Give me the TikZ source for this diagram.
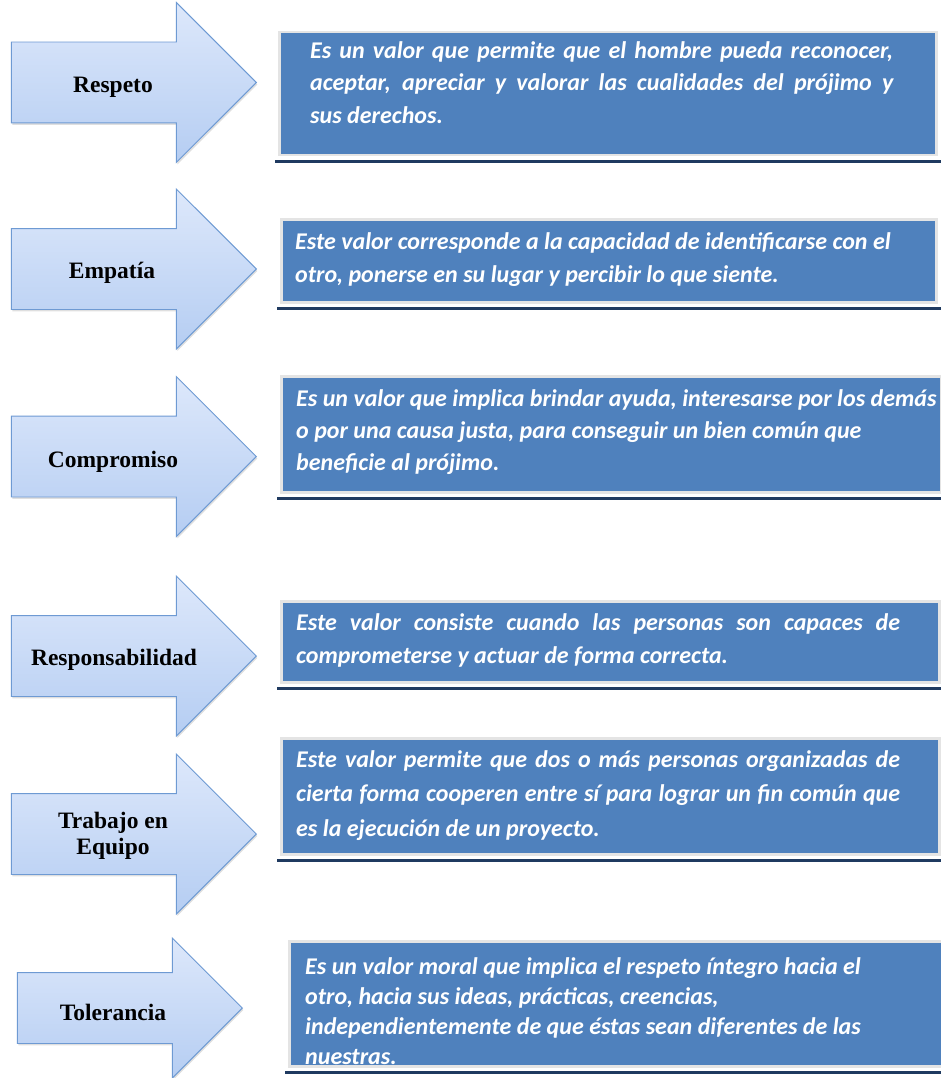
\documentclass[tikz,border=0pt]{standalone}
\usepackage{fontspec}
\newfontfamily\descfont{Carlito}
\newfontfamily\labelfont{Liberation Serif}
\usetikzlibrary{shapes.arrows,shadows}
\definecolor{valblue}{HTML}{4F81BD}
\definecolor{valnavy}{HTML}{1F3A60}
\definecolor{valframe}{HTML}{E4E4E4}
\definecolor{arrowtop}{HTML}{DDE8FB}
\definecolor{arrowbot}{HTML}{B5CDF2}
\definecolor{arrowedge}{HTML}{6E9AD3}
\newcommand{\jline}[2]{\makebox[#1][s]{#2}}
\tikzset{
  % flechas
  valarrow/.style={single arrow,single arrow head extend=39.5pt,
             single arrow tip angle=90,minimum width=159pt,minimum height=245pt,
             inner xsep=0pt,inner ysep=40pt,draw=arrowedge,line width=0.9pt,
             top color=arrowtop,bottom color=arrowbot,anchor=tip,
             drop shadow={opacity=0.25,shadow xshift=1pt,shadow yshift=-2pt}},
  valtitle/.style={font=\labelfont\bfseries\fontsize{23.5}{26}\selectfont,
             align=center,inner sep=0pt},
  % cuadros
  valbox/.style={rectangle,fill=valblue,draw=valframe,line width=2.5pt,
             inner sep=0pt,anchor=north west},
  valbase/.style={draw=valnavy,line width=3.5pt},
  valtext/.style={anchor=north west,inner sep=0pt,align=left,text=white,
             font=\descfont\bfseries\itshape\fontsize{24}{#1}\selectfont},
  valtext/.default=33,
}
\begin{document}
\begin{tikzpicture}[x=1pt,y=-1pt]
  \useasboundingbox (0,0) rectangle (940,1078);
  % flechas
  \node[valarrow] (a1) at (257,82.5) {};
  \node[valarrow] (a2) at (257,269) {};
  \node[valarrow] (a3) at (257,456.5) {};
  \node[valarrow] (a4) at (257,656) {};
  \node[valarrow] (a5) at (257,834) {};
  \node[valarrow,minimum width=139pt,minimum height=225pt,inner ysep=35pt,
        single arrow head extend=34.5pt] (a6) at (243,1008) {};
  \node[valtitle] (t1) at (113,87) {Respeto};
  \node[valtitle] (t2) at (112,273) {Empatía};
  \node[valtitle] (t3) at (113,462) {Compromiso};
  \node[valtitle] (t4) at (114,660) {Responsabilidad};
  \node[valtitle] (t5) at (113,836) {Trabajo en\\Equipo};
  \node[valtitle] (t6) at (113,1012) {Tolerancia};
  % cuadros
  \node[valbox,minimum width=657pt,minimum height=123pt] (b1) at (278,31) {};
  \node[valbox,minimum width=655pt,minimum height=83pt] (b2) at (280,218) {};
  \node[valbox,minimum width=660pt,minimum height=116pt] (b3) at (280,375) {};
  \node[valbox,minimum width=658pt,minimum height=81pt] (b4) at (280,600) {};
  \node[valbox,minimum width=658pt,minimum height=116pt] (b5) at (280,737) {};
  \node[valbox,minimum width=653pt,minimum height=125pt] (b6) at (288,940) {};
  \foreach \b in {b1,b2,b3,b4,b5,b6}
    \draw[valbase] ([xshift=-3pt,yshift=-5pt]\b.south west) -- ([xshift=4pt,yshift=-5pt]\b.south east);
  \node[valtext=32.5] (d1) at (310,41) {\jline{583pt}{Es un valor que permite que el hombre pueda reconocer,}\\
    \jline{583pt}{aceptar, apreciar y valorar las cualidades del prójimo y}\\
    sus derechos.};
  \node[valtext] (d2) at (295,232) {Este valor corresponde a la capacidad de identificarse con el\\
    otro, ponerse en su lugar y percibir lo que siente.};
  \node[valtext=32] (d3) at (296,389) {Es un valor que implica brindar ayuda, interesarse por los demás\\
    o por una causa justa, para conseguir un bien común que\\
    beneficie al prójimo.};
  \node[valtext] (d4) at (296,613) {\jline{604pt}{Este valor consiste cuando las personas son capaces de}\\
    comprometerse y actuar de forma correcta.};
  \node[valtext=34.5] (d5) at (296,750) {\jline{604pt}{Este valor permite que dos o más personas organizadas de}\\
    \jline{604pt}{cierta forma cooperen entre sí para lograr un fin común que}\\
    es la ejecución de un proyecto.};
  \node[valtext=30] (d6) at (305,957) {Es un valor moral que implica el respeto íntegro hacia el\\
    otro, hacia sus ideas, prácticas, creencias,\\
    independientemente de que éstas sean diferentes de las\\
    nuestras.};
\end{tikzpicture}
\end{document}
